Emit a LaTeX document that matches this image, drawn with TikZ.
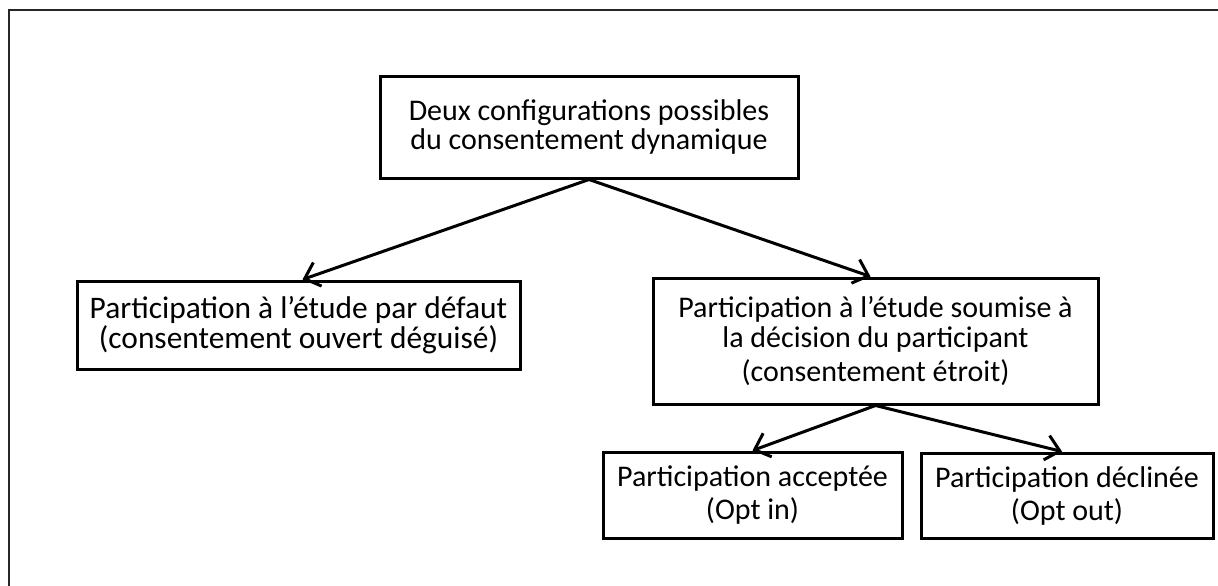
\documentclass[tikz,border=0pt]{standalone}
\usepackage{fontspec}
\setmainfont{Carlito}
\usetikzlibrary{arrows.meta}
\tikzset{
x=0.5pt, y=-0.5pt,
>={Straight Barb[length=2.4mm,width=4.4mm]},
box/.style={%
    rectangle,
    draw=black,
    line width=1.5pt,
    inner sep=0pt,
    align=center,
    % Font
    font=\fontsize{15}{14.8}\selectfont
},
link/.style={->, line width=1.5pt},
frame/.style={draw=black!85, line width=1.2pt},
}

\begin{document}
\begin{tikzpicture}
	\useasboundingbox (0,0) rectangle (1218,585);
	\draw[frame] (9,10) rectangle (1240,610);

	\node[box, minimum width=209pt, minimum height=51pt] (top) at (589,127)
		{Deux configurations possibles\\du consentement dynamique};
	\node[box, minimum width=221.5pt, minimum height=44pt,
		font=\fontsize{15.7}{15}\selectfont] (defaut) at (298.5,325)
		{Participation à l’étude par défaut\\(consentement ouvert déguisé)};
	\node[box, minimum width=222.5pt, minimum height=63pt] (decision) at (875.5,341)
		{Participation à l’étude soumise à\\la décision du participant\\[2.5pt](consentement étroit)};
	\node[box, minimum width=149.5pt, minimum height=43pt,
		font=\fontsize{15}{16.5}\selectfont] (optin) at (752.5,495)
		{Participation acceptée\\(Opt in)};
	\node[box, minimum width=146pt, minimum height=42.5pt,
		font=\fontsize{15}{16.5}\selectfont] (optout) at (1067,495.5)
		{Participation déclinée\\(Opt out)};

	\draw[link] (top.south) -- ([xshift=2pt]defaut.north);
	\draw[link] (top.south) -- ([xshift=-2.5pt]decision.north);
	\draw[link] (decision.south) -- (optin.north);
	\draw[link] (decision.south) -- ([xshift=-2.5pt]optout.north);
\end{tikzpicture}
\end{document}
